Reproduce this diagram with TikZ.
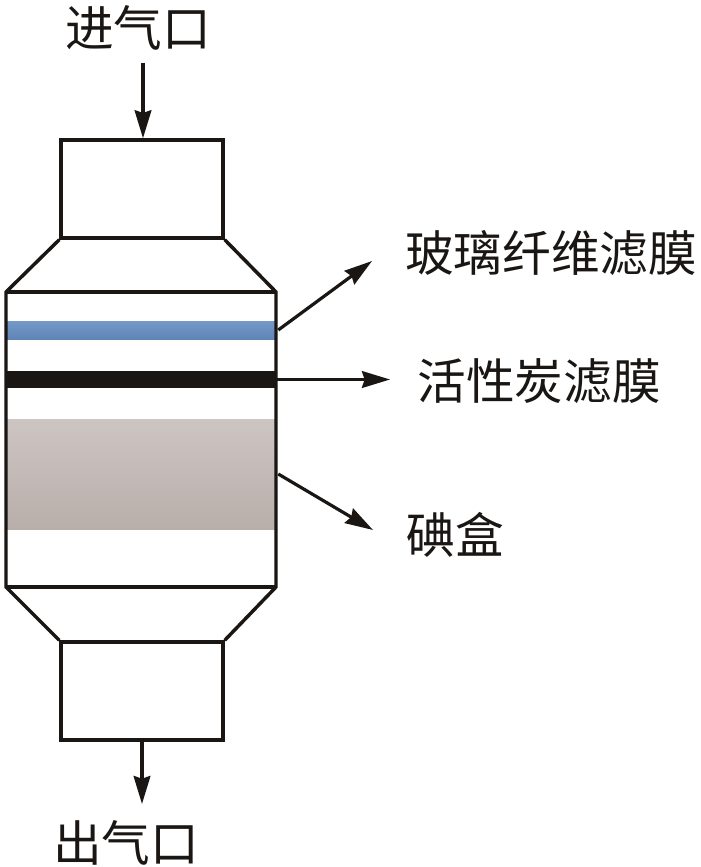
\documentclass[tikz,border=0pt]{standalone}
\usepackage{fontspec}
\newfontfamily\cjk{Noto Sans CJK SC}
\usetikzlibrary{arrows.meta}
\definecolor{bluetop}{HTML}{7599C8}
\definecolor{bluebot}{HTML}{5F84B6}
\definecolor{greytop}{HTML}{CDC5C2}
\definecolor{greybot}{HTML}{B8AFAB}
\definecolor{inkblack}{HTML}{1A1613}
\tikzset{
  vessel/.style={draw=inkblack,line width=2.6pt},
  capbox/.style={vessel,fill=white,rectangle,inner sep=0pt,minimum width=121.5pt,minimum height=73.5pt},
  band/.style={rectangle,inner sep=0pt,minimum width=201pt},
  flow/.style={draw=inkblack,line width=2.4pt,-{Stealth[length=21pt,width=12.5pt,inset=2pt]}},
  lab/.style={inner sep=0pt,font=\cjk\fontsize{36.5pt}{40pt}\selectfont,text=inkblack},
}
\begin{document}
\begin{tikzpicture}[x=0.75pt,y=-0.75pt]
\useasboundingbox (0,0) rectangle (700,867);
\fill[white] (0,0) rectangle (700,867);
% bands
\node[band,minimum height=13.5pt,top color=bluetop,bottom color=bluebot] (blueband) at (141,330) {};
\node[band,minimum height=12.75pt,fill=inkblack,minimum width=204pt] (blackband) at (141,379.5) {};
\node[band,minimum height=82.5pt,top color=greytop,bottom color=greybot] (greyband) at (141,474) {};
% vessel
\node[capbox] (topcap) at (142,189) {};
\node[capbox] (botcap) at (142,691) {};
\coordinate (sl) at (6,292); \coordinate (sr) at (276,292);
\coordinate (el) at (6,587); \coordinate (er) at (276,587);
\draw[vessel] (topcap.south west) -- (sl) -- (el) -- (botcap.north west);
\draw[vessel] (topcap.south east) -- (sr) -- (er) -- (botcap.north east);
\draw[vessel] (sl) -- (sr);
\draw[vessel] (el) -- (er);
% labels
\node[lab] (inlet) at (138,28) {进气口};
\node[lab] (glass) at (551,253) {玻璃纤维滤膜};
\node[lab] (carbon) at (539,381) {活性炭滤膜};
\node[lab] (iodine) at (455,535) {碘盒};
\node[lab] (outlet) at (126,843) {出气口};
% arrows
\coordinate (glassend) at (372,261);
\coordinate (carbonend) at (390,379.5);
\coordinate (iodineend) at (373,530);
\coordinate (inletstart) at (143,63);
\coordinate (outletend) at (142,804);
\draw[flow] (inletstart) -- (topcap.north -| inletstart);
\draw[flow] (botcap.south) -- (outletend);
\draw[flow] (blueband.east) ++(3,0) -- (glassend);
\draw[flow] (blackband.east) -- (carbonend);
\draw[flow] (greyband.east) ++(3,0) -- (iodineend);
\end{tikzpicture}
\end{document}
